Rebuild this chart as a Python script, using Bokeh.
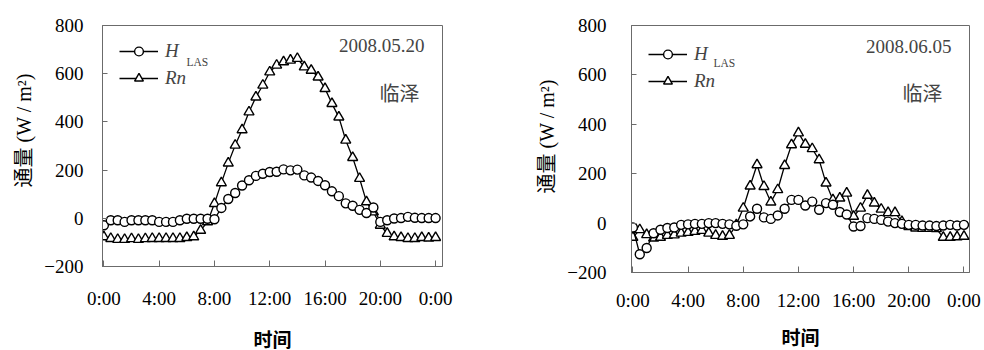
import numpy as np
from bokeh.plotting import figure
from bokeh.layouts import row
from bokeh.models import Range1d, FixedTicker, Label, Legend, LegendItem, Title
from bokeh.core.properties import value
from bokeh.embed import file_html
from bokeh.resources import INLINE

# ---------------- data ----------------
times = [i * 0.5 for i in range(49)]          # half-hourly, 0:00 .. 24:00
x_ticks = [0, 4, 8, 12, 16, 20, 24]
x_tick_labels = ["0:00", "4:00", "8:00", "12:00", "16:00", "20:00", "0:00"]
y_ticks = [-200, 0, 200, 400, 600, 800]
y_tick_labels = ["\u2212200", "0", "200", "400", "600", "800"]

h_las_0520 = [-29, -8, -8, -15, -8, -8, -8, -8, -15, -15, -15, -8, -2, -2, -2, -2,
              -4, 43, 80, 105, 136, 158, 176, 185, 192, 193, 203, 199, 202, 178,
              169, 155, 137, 112, 92, 62, 52, 35, 22, 45, -15, -8, -1, 1, 6, 2, 1, 1, 1]
rn_0520 = [-77, -84, -88, -88, -85, -88, -85, -84, -84, -84, -84, -84, -80, -77, -50,
           -15, 61, 147, 229, 303, 367, 441, 503, 552, 607, 635, 649, 656, 663, 628,
           614, 586, 538, 476, 420, 324, 252, 165, 68, 26, -29, -63, -77, -80, -84,
           -84, -80, -82, -80]
h_las_0605 = [-18, -126, -101, -41, -27, -20, -18, -7, -5, -3, -3, 0, 0, -3, -5, -11,
              -5, 27, 58, 23, 17, 31, 58, 94, 94, 71, 87, 54, 81, 74, 45, 35, -14, -12,
              20, 17, 13, 6, 0, -3, -7, -7, -10, -10, -12, -10, -7, -10, -7]
rn_0605 = [-58, -27, -47, -61, -58, -50, -48, -41, -38, -34, -30, -41, -50, -54, -50,
           -7, 60, 150, 236, 148, 85, 135, 233, 317, 365, 319, 301, 256, 162, 94, 101,
           121, 27, 60, 112, 81, 56, 42, 42, 6, -14, -20, -22, -22, -23, -58, -58, -56, -54]

dates = ["2008.05.20", "2008.06.05"]
site = "临泽"
x_title = "时间"
y_title = "通量 (W / m\u00b2)"
legend_main = ["H", "Rn"]
legend_sub = "LAS"

SERIF = "Liberation Serif"
CJK = "Noto Sans CJK SC"
MIXED = "Liberation Serif, Noto Sans CJK SC"
GRAY = "#6b6b6b"


def make_panel(geom, date_text, h_vals, rn_vals):
    off, fw_tot, bl, fw, bt, fh = geom["off"], geom["width"], geom["bl"], geom["fw"], geom["bt"], geom["fh"]
    br = fw_tot - bl - fw
    bb = 350 - bt - fh
    xr = geom["xr"]
    p = figure(output_backend="svg", toolbar_location=None,
               frame_width=fw, frame_height=fh,
               min_border_left=bl, min_border_right=br,
               min_border_top=bt, min_border_bottom=bb,
               x_range=Range1d(*xr), y_range=Range1d(-200, 800),
               background_fill_color="white", border_fill_color="white")
    p.xgrid.visible = False
    p.ygrid.visible = False
    p.outline_line_color = GRAY
    p.outline_line_width = 1

    for ax in (p.xaxis[0], p.yaxis[0]):
        ax.axis_line_color = GRAY
        ax.major_tick_line_color = GRAY
        ax.minor_tick_line_color = None
        ax.major_tick_out = 0
        ax.major_label_text_font = SERIF
        ax.major_label_text_font_size = "19px"
        ax.major_label_text_color = "black"
    p.xaxis.major_tick_in = 6
    p.yaxis.major_tick_in = 5
    p.xaxis.ticker = FixedTicker(ticks=x_ticks)
    p.xaxis.major_label_overrides = {t: l for t, l in zip(x_ticks, x_tick_labels)}
    p.yaxis.ticker = FixedTicker(ticks=y_ticks)
    p.yaxis.major_label_overrides = {t: l for t, l in zip(y_ticks, y_tick_labels)}
    p.yaxis.major_label_standoff = geom["ystd"]
    p.xaxis.major_label_standoff = geom["xstd"]
    p.xaxis.axis_label = x_title
    p.xaxis.axis_label_text_font = CJK
    p.xaxis.axis_label_text_font_style = "bold"
    p.xaxis.axis_label_text_font_size = "19px"
    p.xaxis.axis_label_text_color = "black"
    p.xaxis.axis_label_standoff = geom["xlstd"]

    # y-axis title as a side title (start placed with offset from frame bottom)
    p.add_layout(Title(text=y_title, align="left", offset=geom["yoff"],
                       standoff=geom["ytstd"], text_font=MIXED, text_font_size="20px",
                       text_font_style="normal", text_color="black"), "left")

    # series
    rn_line = p.line(times, rn_vals, line_color="black", line_width=1.3)
    rn_pts = p.scatter(times, rn_vals, marker="triangle", size=10, fill_color="white",
                       line_color="black", line_width=1.4)
    h_line = p.line(times, h_vals, line_color="black", line_width=1.3)
    h_pts = p.scatter(times, h_vals, marker="circle", size=9, fill_color="white",
                      line_color="black", line_width=1.4)

    # page px -> data
    L = off + bl
    B = bt + fh

    def d(px, py):
        return (xr[0] + (px - L) / fw * (xr[1] - xr[0]),
                -200 + (B - py) / fh * 1000)

    legend = Legend(items=[LegendItem(label=value(legend_main[0]), renderers=[h_line, h_pts]),
                           LegendItem(label=value(legend_main[1]), renderers=[rn_line, rn_pts])],
                    location=geom["legloc"], padding=0, margin=0, spacing=5,
                    glyph_width=39, glyph_height=22, label_height=22, label_standoff=7,
                    label_text_font=SERIF, label_text_font_style="italic",
                    label_text_font_size="19px", border_line_color=None,
                    background_fill_alpha=0)
    p.add_layout(legend)

    x, y = d(*geom["las"])
    p.add_layout(Label(x=x, y=y, text=legend_sub, text_font=SERIF, text_font_size="11.5px",
                       text_align="left", text_baseline="alphabetic"))
    x, y = d(*geom["date"])
    p.add_layout(Label(x=x, y=y, text=date_text, text_font=SERIF, text_font_size="19px",
                       text_align="right", text_baseline="middle"))
    x, y = d(*geom["site"])
    p.add_layout(Label(x=x, y=y, text=site, text_font=CJK, text_font_size="20px",
                       text_align="center", text_baseline="middle"))
    return p


geom_left = dict(off=0, width=500, bl=102, fw=340, bt=25, fh=241, xr=(-0.1, 24.5),
                 ystd=19, xstd=21, xlstd=13, legloc=(17, 177), yoff=79, ytstd=13,
                 las=(186, 61), date=(424, 45), site=(399, 92))
geom_right = dict(off=500, width=484, bl=131, fw=338, bt=24, fh=247, xr=(-0.1, 24.4),
                  ystd=25, xstd=17, xlstd=9, legloc=(17, 180), yoff=79, ytstd=13,
                  las=(713, 61), date=(951, 45), site=(922, 91))

p1 = make_panel(geom_left, dates[0], h_las_0520, rn_0520)
p2 = make_panel(geom_right, dates[1], h_las_0605, rn_0605)
layout = row(p1, p2)

open("out.html", "w").write(file_html(layout, INLINE))
